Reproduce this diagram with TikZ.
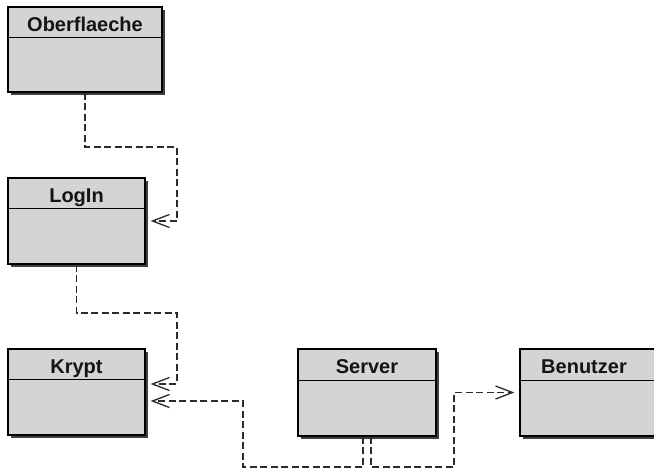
\documentclass[tikz,border=0pt]{standalone}
\usepackage{fontspec}
\setmainfont{Liberation Sans}
\usetikzlibrary{calc,shadows,arrows.meta}
\definecolor{boxfill}{HTML}{D4D4D4}
\definecolor{lnk}{HTML}{2A2A2A}
\tikzset{
  cls/.style={draw=black, line width=1.3pt, fill=boxfill, rectangle, inner sep=0pt,
    drop shadow={shadow xshift=2.5pt, shadow yshift=-2.5pt, fill=black!75, opacity=1}},
  lbl/.style={font=\bfseries\fontsize{20}{22}\selectfont, inner sep=0pt, anchor=base, text=black!92},
  divider/.style={draw=black, line width=1.2pt},
  dep/.style={draw=lnk, line width=1.3pt, dash pattern=on 7pt off 3.5pt, shorten >=5pt,
    -{Straight Barb[length=17pt, width=13pt, line width=1.3pt]}},
}
\begin{document}
\begin{tikzpicture}[x=1pt, y=-1pt]
\useasboundingbox (0,0) rectangle (654,475);
\fill[white] (0,0) rectangle (654,475);
\begin{scope}
\clip (0,0) rectangle (654,475);
% classes
\node[cls, minimum width=154pt, minimum height=85pt] (ober) at (85,49.5) {};
\node[cls, minimum width=137pt, minimum height=86pt] (login) at (76.5,221) {};
\node[cls, minimum width=137pt, minimum height=86pt] (krypt) at (76.5,392) {};
\node[cls, minimum width=138pt, minimum height=87pt] (server) at (367,392.5) {};
\node[cls, minimum width=140pt, minimum height=87pt] (benutzer) at (590,392.5) {};
% dividers
\draw[divider] ($(ober.north west)+(0,31)$) -- ($(ober.north east)+(0,31)$);
\draw[divider] ($(login.north west)+(0,31)$) -- ($(login.north east)+(0,31)$);
\draw[divider] ($(krypt.north west)+(0,31)$) -- ($(krypt.north east)+(0,31)$);
\draw[divider] ($(server.north west)+(0,32)$) -- ($(server.north east)+(0,32)$);
\draw[divider] ($(benutzer.north west)+(0,32)$) -- ($(benutzer.north east)+(0,32)$);
\end{scope}
% labels
\node[lbl] (oberT) at ($(ober.north)+(0,25)$) {Oberflaeche};
\node[lbl] (loginT) at ($(login.north)+(0,25)$) {LogIn};
\node[lbl] (kryptT) at ($(krypt.north)+(0,25)$) {Krypt};
\node[lbl] (serverT) at ($(server.north)+(0,25.5)$) {Server};
\node[lbl] (benutzerT) at ($(benutzer.north)+(-6,25.5)$) {Benutzer};
% connectors
\coordinate (c1) at (177,147);
\coordinate (c2) at (177,313);
\coordinate (c3) at (243,467);
\coordinate (c4) at (454,467);
\draw[dep] (ober.south) |- (c1) |- (login.east);
\draw[dep] (login.south) |- (c2) |- ($(krypt.east)+(0,-8)$);
\draw[dep] ($(server.south)+(-4,0)$) |- (c3) |- ($(krypt.east)+(0,9)$);
\draw[dep] ($(server.south)+(4,0)$) |- (c4) |- (benutzer.west);
\end{tikzpicture}
\end{document}
